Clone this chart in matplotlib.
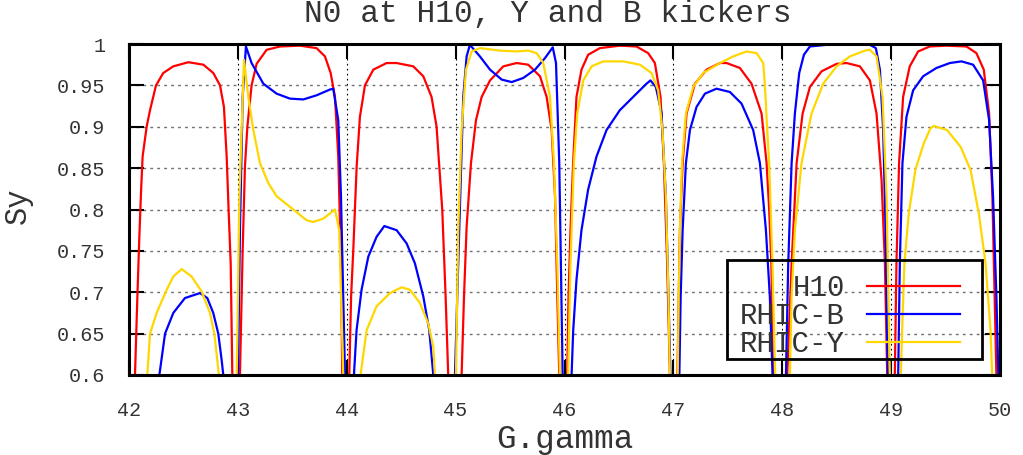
import matplotlib
matplotlib.use("Agg")
import matplotlib.pyplot as plt
from matplotlib.patches import Rectangle
import numpy as np

nan = np.nan

# H10 (red) -- segments separated by nan
h10_x = [42.055, 42.077, 42.095, 42.110, 42.125, 42.162, 42.193, 42.248, 42.315, 42.407, 42.545, 42.683, 42.774, 42.836, 42.872, 42.897, 42.915, 42.934, 42.949, nan,
         43.019, 43.044, 43.065, 43.087, 43.126, 43.172, 43.264, 43.387, 43.570, 43.723, 43.800, 43.852, 43.892, 43.922, 43.947, 43.959, nan,
         44.023, 44.040, 44.060, 44.091, 44.121, 44.167, 44.244, 44.366, 44.458, 44.611, 44.703, 44.779, 44.825, 44.877, 44.908, 44.932, nan,
         45.055, 45.077, 45.101, 45.141, 45.187, 45.239, 45.316, 45.438, 45.560, 45.667, 45.775, 45.836, 45.882, 45.913, 45.934, 45.952, nan,
         46.025, 46.037, 46.055, 46.079, 46.110, 46.156, 46.217, 46.325, 46.508, 46.661, 46.768, 46.830, 46.882, 46.913, 46.943, 46.968, nan,
         47.037, 47.049, 47.060, 47.085, 47.121, 47.198, 47.305, 47.428, 47.489, 47.611, 47.718, 47.810, 47.856, 47.880, 47.900, 47.917, nan,
         48.046, 48.086, 48.132, 48.187, 48.254, 48.361, 48.499, 48.591, 48.713, 48.805, 48.866, 48.912, 48.943, 48.964, nan,
         49.034, 49.049, 49.073, 49.110, 49.171, 49.248, 49.355, 49.508, 49.692, 49.783, 49.851, 49.900, 49.930, 49.951, 49.967]
h10_y = [0.600, 0.695, 0.767, 0.820, 0.864, 0.900, 0.920, 0.950, 0.965, 0.973, 0.978, 0.975, 0.965, 0.950, 0.924, 0.864, 0.799, 0.735, 0.600, nan,
         0.600, 0.751, 0.852, 0.900, 0.950, 0.976, 0.993, 0.997, 0.998, 0.995, 0.985, 0.965, 0.936, 0.864, 0.735, 0.600, nan,
         0.600, 0.695, 0.751, 0.852, 0.912, 0.950, 0.969, 0.977, 0.977, 0.973, 0.961, 0.936, 0.900, 0.800, 0.695, 0.600, nan,
         0.600, 0.695, 0.779, 0.856, 0.908, 0.936, 0.956, 0.973, 0.977, 0.975, 0.961, 0.936, 0.896, 0.816, 0.695, 0.600, nan,
         0.600, 0.695, 0.775, 0.856, 0.936, 0.969, 0.987, 0.995, 0.998, 0.997, 0.989, 0.977, 0.936, 0.856, 0.735, 0.600, nan,
         0.600, 0.695, 0.775, 0.856, 0.916, 0.952, 0.969, 0.977, 0.977, 0.971, 0.952, 0.916, 0.856, 0.800, 0.735, 0.600, nan,
         0.600, 0.735, 0.856, 0.916, 0.948, 0.967, 0.976, 0.977, 0.973, 0.956, 0.916, 0.836, 0.735, 0.600, nan,
         0.600, 0.735, 0.856, 0.936, 0.973, 0.991, 0.997, 0.998, 0.997, 0.989, 0.969, 0.916, 0.816, 0.695, 0.600]

# RHIC-B (blue)
rhicb_x = [42.279, 42.331, 42.407, 42.514, 42.652, 42.719, 42.774, 42.820, 42.851, 42.866, nan,
           43.001, 43.019, 43.044, 43.074, 43.126, 43.234, 43.356, 43.478, 43.601, 43.723, 43.846, 43.876, 43.922, 43.947, 43.984, nan,
           44.066, 44.090, 44.136, 44.198, 44.274, 44.345, 44.458, 44.550, 44.626, 44.703, 44.758, 44.795, nan,
           44.994, 45.033, 45.070, 45.101, 45.131, 45.223, 45.316, 45.423, 45.515, 45.622, 45.729, 45.821, 45.892, 45.922, 45.952, 45.983, nan,
           46.065, 46.080, 46.110, 46.156, 46.217, 46.294, 46.386, 46.508, 46.661, 46.753, 46.790, 46.839, 46.891, 46.931, 46.955, 46.973, nan,
           47.055, 47.067, 47.085, 47.115, 47.152, 47.213, 47.290, 47.396, 47.519, 47.626, 47.733, 47.795, 47.850, 47.886, 47.911, nan,
           48.034, 48.055, 48.086, 48.116, 48.156, 48.199, 48.254, 48.407, 48.805, 48.860, 48.897, 48.927, 48.949, 48.970, nan,
           49.065, 49.080, 49.104, 49.141, 49.202, 49.294, 49.416, 49.539, 49.646, 49.753, 49.845, 49.900, 49.936, 49.967, 49.985]
rhicb_y = [0.600, 0.650, 0.675, 0.693, 0.699, 0.693, 0.675, 0.650, 0.618, 0.600, nan,
           0.600, 0.775, 0.936, 0.997, 0.977, 0.952, 0.940, 0.934, 0.933, 0.938, 0.945, 0.946, 0.908, 0.816, 0.600, nan,
           0.600, 0.654, 0.703, 0.743, 0.767, 0.780, 0.775, 0.759, 0.735, 0.695, 0.654, 0.600, nan,
           0.600, 0.775, 0.936, 0.985, 0.999, 0.985, 0.969, 0.957, 0.954, 0.959, 0.969, 0.983, 0.996, 0.977, 0.856, 0.600, nan,
           0.600, 0.654, 0.715, 0.775, 0.824, 0.864, 0.896, 0.920, 0.940, 0.952, 0.956, 0.948, 0.917, 0.816, 0.695, 0.600, nan,
           0.600, 0.695, 0.775, 0.856, 0.896, 0.924, 0.940, 0.946, 0.942, 0.928, 0.896, 0.856, 0.775, 0.695, 0.600, nan,
           0.600, 0.735, 0.856, 0.916, 0.965, 0.987, 0.997, 0.999, 0.999, 0.995, 0.969, 0.896, 0.775, 0.600, nan,
           0.600, 0.735, 0.856, 0.912, 0.944, 0.961, 0.971, 0.977, 0.979, 0.975, 0.956, 0.908, 0.816, 0.695, 0.600]

# RHIC-Y (yellow)
rhicy_x = [42.168, 42.193, 42.254, 42.346, 42.407, 42.484, 42.575, 42.667, 42.744, 42.784, 42.826, nan,
           42.989, 42.996, 43.014, 43.056, 43.096, 43.142, 43.203, 43.279, 43.356, 43.509, 43.631, 43.693, 43.785, 43.892, 43.931, 43.968, nan,
           44.127, 44.182, 44.274, 44.397, 44.504, 44.580, 44.672, 44.749, 44.795, 44.810, nan,
           45.003, 45.024, 45.055, 45.095, 45.147, 45.224, 45.408, 45.560, 45.667, 45.744, 45.805, 45.867, 45.903, 45.934, 45.958, nan,
           46.034, 46.055, 46.086, 46.117, 46.172, 46.249, 46.355, 46.539, 46.692, 46.799, 46.860, 46.900, 46.931, 46.955, 46.968, nan,
           47.040, 47.049, 47.060, 47.079, 47.115, 47.182, 47.274, 47.428, 47.550, 47.672, 47.764, 47.825, 47.840, 47.862, 47.880, 47.910, 47.935, nan,
           48.070, 48.086, 48.116, 48.177, 48.269, 48.376, 48.499, 48.621, 48.759, 48.805, 48.866, 48.921, 48.958, 48.988, nan,
           49.089, 49.101, 49.122, 49.162, 49.223, 49.300, 49.361, 49.392, 49.514, 49.637, 49.729, 49.806, 49.867, 49.913, 49.928]
rhicy_y = [0.600, 0.650, 0.675, 0.703, 0.719, 0.728, 0.719, 0.701, 0.675, 0.650, 0.600, nan,
           0.600, 0.654, 0.816, 0.981, 0.936, 0.896, 0.856, 0.832, 0.816, 0.800, 0.787, 0.785, 0.789, 0.800, 0.775, 0.600, nan,
           0.600, 0.654, 0.683, 0.699, 0.706, 0.703, 0.687, 0.662, 0.634, 0.600, nan,
           0.600, 0.775, 0.896, 0.969, 0.991, 0.995, 0.992, 0.991, 0.992, 0.989, 0.977, 0.936, 0.856, 0.735, 0.600, nan,
           0.600, 0.735, 0.856, 0.916, 0.956, 0.973, 0.979, 0.979, 0.975, 0.965, 0.944, 0.896, 0.816, 0.695, 0.600, nan,
           0.600, 0.695, 0.775, 0.856, 0.916, 0.948, 0.965, 0.977, 0.985, 0.991, 0.989, 0.977, 0.952, 0.896, 0.856, 0.735, 0.600, nan,
           0.600, 0.695, 0.775, 0.856, 0.916, 0.952, 0.973, 0.985, 0.992, 0.993, 0.985, 0.936, 0.816, 0.600, nan,
           0.600, 0.654, 0.735, 0.795, 0.848, 0.880, 0.898, 0.901, 0.896, 0.876, 0.848, 0.795, 0.735, 0.654, 0.600]

xticks = [42, 43, 44, 45, 46, 47, 48, 49, 50]
yticks = [0.6, 0.65, 0.7, 0.75, 0.8, 0.85, 0.9, 0.95, 1.0]
ytick_labels = ['0.6', '0.65', '0.7', '0.75', '0.8', '0.85', '0.9', '0.95', '1']

plt.rcParams['font.family'] = ['Liberation Mono', 'DejaVu Sans Mono']
txt = '#333333'

fig = plt.figure(figsize=(10.23, 4.55), dpi=100)
ax = fig.add_axes([129/1023, 1 - 375/455, 871/1023, 331/455])

ax.plot(h10_x, h10_y, color='#ff0000', lw=1.6, label='H10')
ax.plot(rhicb_x, rhicb_y, color='#0000ff', lw=1.6, label='RHIC-B')
ax.plot(rhicy_x, rhicy_y, color='#ffd700', lw=1.6, label='RHIC-Y')

ax.set_xlim(42, 50)
ax.set_ylim(0.6, 1.0)
ax.set_xticks(xticks)
ax.set_yticks(yticks)
ax.set_yticklabels(ytick_labels)

# gnuplot style grid
for yv in yticks[1:-1]:
    ax.axhline(yv, color='#707070', lw=1, ls=(0, (2, 3)), zorder=0)
for xv in xticks[1:-1]:
    ax.axvline(xv, color='black', lw=0.8, ls=(0, (1.5, 3)), zorder=0)

ax.tick_params(direction='in', length=11, width=1.5, top=True, right=True,
               labelsize=14.5, colors='black', labelcolor=txt)
ax.tick_params(axis='x', pad=19)
ax.tick_params(axis='y', pad=17)
for sp in ax.spines.values():
    sp.set_linewidth(2.2)

ax.set_xlabel('G.gamma', fontsize=23.5, color=txt)
ax.xaxis.set_label_coords(0.5, (375 - 424) / 331)
ax.set_ylabel('Sy', fontsize=22, color=txt)
ax.yaxis.set_label_coords((33 - 129) / 871, 0.51)
fig.text(548/1023, 1 - 14/455, 'N0 at H10, Y and B kickers', fontsize=22.5,
         color=txt, ha='center', va='center')

leg = ax.legend(loc='lower right', bbox_to_anchor=((960 - 129) / 871, (375 - 358) / 331),
                markerfirst=False, fontsize=21, handlelength=3.2, handletextpad=0.75,
                borderpad=0, borderaxespad=0, labelspacing=0.0, frameon=False)
for t in leg.get_texts():
    t.set_color(txt)
ax.add_patch(Rectangle(((727 - 129) / 871, (375 - 359) / 331), 255 / 871, 99 / 331,
                       transform=ax.transAxes, fill=False, edgecolor='black', lw=2,
                       zorder=5))

fig.savefig('out.png', dpi=100)
